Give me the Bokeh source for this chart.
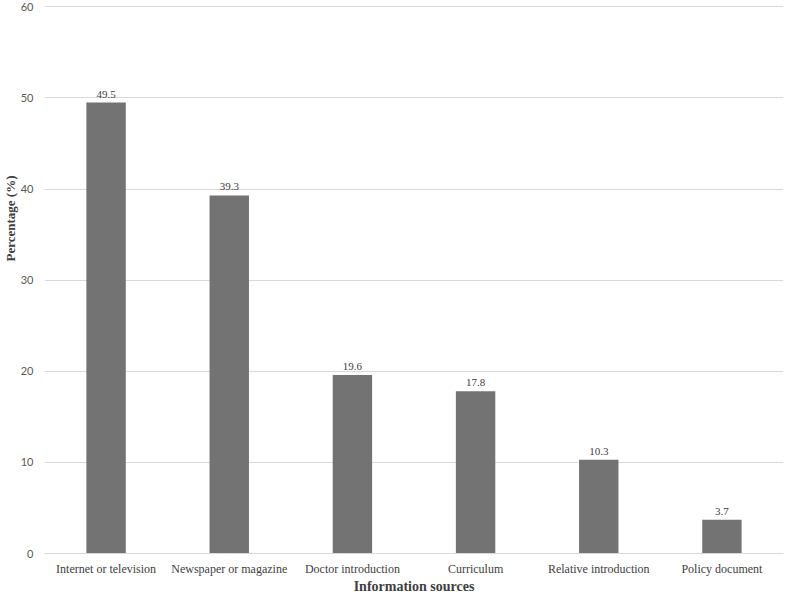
from bokeh.plotting import figure
from bokeh.models import ColumnDataSource, FactorRange, Range1d, LabelSet, Title, FixedTicker
from bokeh.embed import file_html
from bokeh.resources import INLINE

categories = ["Internet or television", "Newspaper or magazine", "Doctor introduction",
              "Curriculum", "Relative introduction", "Policy document"]
values = [49.5, 39.3, 19.6, 17.8, 10.3, 3.7]
labels = ["49.5", "39.3", "19.6", "17.8", "10.3", "3.7"]
y_ticks = [0, 10, 20, 30, 40, 50, 60]

src = ColumnDataSource(data=dict(cat=categories, val=values, lab=labels))

p = figure(width=784, height=596, x_range=FactorRange(*categories), y_range=Range1d(0, 60.15),
           output_backend="svg", toolbar_location=None,
           min_border_left=0, min_border_right=1, min_border_top=5, min_border_bottom=0)
p.outline_line_color = None
p.background_fill_color = "white"

p.vbar(x="cat", top="val", width=0.32, source=src, fill_color="#737373", line_color=None)

p.add_layout(LabelSet(x="cat", y="val", text="lab", source=src, y_offset=5,
                      text_align="center", text_baseline="bottom",
                      text_font="Lato", text_font_size="11px", text_color="#404040"))

p.xgrid.grid_line_color = None
p.ygrid.grid_line_color = "#d9d9d9"
p.ygrid.grid_line_width = 1
p.yaxis.ticker = FixedTicker(ticks=y_ticks)

p.yaxis.axis_line_color = None
p.yaxis.major_tick_line_color = None
p.yaxis.minor_tick_line_color = None
p.yaxis.major_label_text_font = "Lato"
p.yaxis.major_label_text_font_size = "11px"
p.yaxis.major_label_text_color = "#595959"
p.yaxis.major_label_standoff = 5

p.xaxis.axis_line_color = "#d9d9d9"
p.xaxis.major_tick_line_color = None
p.xaxis.minor_tick_line_color = None
p.xaxis.major_label_text_font = "Liberation Serif"
p.xaxis.major_label_text_font_size = "12px"
p.xaxis.major_label_text_color = "#404040"
p.xaxis.major_label_standoff = 2
p.xaxis.axis_label = "Information sources"
p.xaxis.axis_label_text_font = "Liberation Serif"
p.xaxis.axis_label_text_font_style = "bold"
p.xaxis.axis_label_text_font_size = "14px"
p.xaxis.axis_label_text_color = "#404040"
p.xaxis.axis_label_standoff = 0

ytitle = Title(text="Percentage (%)", align="right", offset=170,
               text_font="Liberation Serif", text_font_style="bold",
               text_font_size="13px", text_color="#404040", standoff=0)
p.add_layout(ytitle, "left")

open("out.html", "w").write(file_html(p, INLINE))
